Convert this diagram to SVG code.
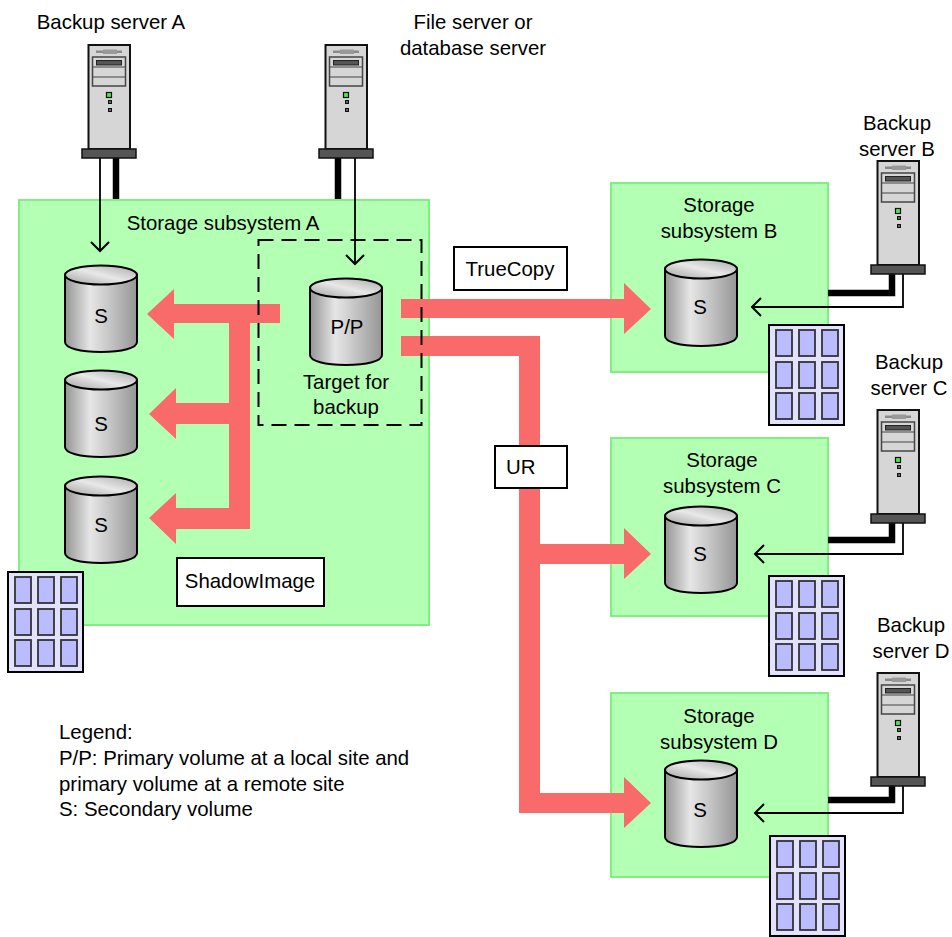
<svg xmlns="http://www.w3.org/2000/svg" xmlns:xlink="http://www.w3.org/1999/xlink" width="952" height="937" viewBox="0 0 952 937">
<style>
text{font-family:"Liberation Sans",Arial,sans-serif;font-size:20.4px;fill:#000}
.m{text-anchor:middle}
.sub{fill:#b3ffb3;stroke:#80ee80;stroke-width:2}
.box{fill:#fff;stroke:#000;stroke-width:2}
.thin{fill:none;stroke:#000;stroke-width:1.8}
.thick{fill:none;stroke:#000;stroke-width:6.5}
.head{fill:none;stroke:#000;stroke-width:2}
.pink{fill:#f96b6b}
</style>
<defs>
<linearGradient id="cb" x1="0" x2="1" y1="0" y2="0">
<stop offset="0" stop-color="#959595"/><stop offset=".35" stop-color="#e6e6e6"/><stop offset=".6" stop-color="#c8c8c8"/><stop offset="1" stop-color="#969696"/>
</linearGradient>
<linearGradient id="ct" x1="0" x2="1" y1="1" y2="0">
<stop offset="0" stop-color="#a0a0a0"/><stop offset=".5" stop-color="#e8e8e8"/><stop offset="1" stop-color="#a8a8a8"/>
</linearGradient>
<g id="cyl">
<path d="M1 10V77C1 83 16 87 37 87S73 83 73 77V10Z" fill="url(#cb)" stroke="#000" stroke-width="2"/>
<ellipse cx="37" cy="10" rx="36" ry="9.500" fill="url(#ct)" stroke="#000" stroke-width="2"/>
</g>
<g id="srv">
<rect x="7.500" y="1" width="41.500" height="104" fill="#d6d6d6" stroke="#111" stroke-width="2"/>
<rect x="15" y="6.500" width="26" height="2.500" fill="#8a8a8a"/><rect x="22" y="5.500" width="14" height="4.500" fill="#999"/>
<rect x="11.500" y="13" width="33" height="29" fill="#d6d6d6" stroke="#444" stroke-width="1.500"/>
<rect x="15.500" y="16.500" width="25" height="4.500" fill="#555" stroke="#222"/>
<path d="M11.500 23H44.500M11.500 33H44.500" stroke="#444" stroke-width="1.200" fill="none"/>
<rect x="25.500" y="48.500" width="5" height="5" fill="#44ee44" stroke="#111" stroke-width="1.200"/>
<rect x="27.500" y="56.500" width="3" height="3" fill="#666" stroke="#111"/>
<rect x="27.500" y="64.500" width="3" height="3" fill="#666" stroke="#111"/>
<rect x="1" y="105" width="54" height="9" fill="#555" stroke="#111" stroke-width="1.500"/>
</g>
<g id="grid">
<rect x="1" y="1" width="75" height="100" fill="#e2e2ff" stroke="#000" stroke-width="2"/>
<g fill="#bbbbff" stroke="#333" stroke-width="1.800">
<rect x="8" y="6" width="16" height="26"/><rect x="31" y="6" width="16" height="26"/><rect x="54" y="6" width="16" height="26"/>
<rect x="8" y="38" width="16" height="26"/><rect x="31" y="38" width="16" height="26"/><rect x="54" y="38" width="16" height="26"/>
<rect x="8" y="69" width="16" height="26"/><rect x="31" y="69" width="16" height="26"/><rect x="54" y="69" width="16" height="26"/>
</g>
</g>
</defs>
<rect width="952" height="937" fill="#fff"/>
<g id="storage-subsystem-a"><rect class="sub" x="19" y="200" width="410" height="425"/><text class="m" x="223" y="230">Storage subsystem A</text></g>
<g id="storage-subsystem-b"><rect class="sub" x="611" y="183" width="217" height="189"/><text class="m" x="719" y="212">Storage</text><text class="m" x="719" y="238">subsystem B</text></g>
<g id="storage-subsystem-c"><rect class="sub" x="611" y="438" width="217" height="178"/><text class="m" x="722" y="467">Storage</text><text class="m" x="722" y="493">subsystem C</text></g>
<g id="storage-subsystem-d"><rect class="sub" x="611" y="693" width="217" height="184"/><text class="m" x="719" y="723">Storage</text><text class="m" x="719" y="749">subsystem D</text></g>
<g id="connectors">
<path class="pink" d="M280 304V323H250V529H176V544L149 518 176 493V508H229V424H176V439L149 414 176 388V403H229V323H174V339L147 314 174 289V304Z"/>
<path class="pink" d="M401 299H624V283L651 309 624 334V318H401Z"/>
<path class="pink" d="M401 336H540V544H624V528L651 554 624 579V564H540V793H624V777L651 803 624 828V813H519V356H401Z"/>
<path class="thick" d="M116 158V199M338 158V199"/>
<path class="thin" d="M100 158V251M355 158V264"/>
<path class="head" d="M91 242L100 251 109 242M346 255L355 264 364 255"/>
<path class="thick" d="M892 274V293H828M892 523V540H828M892 786V800H828"/>
<path class="thin" d="M903 274V307H752M903 523V554H755M903 786V813H755"/>
<path class="head" d="M761 298L752 307 761 316M764 545L755 554 764 563M764 804L755 813 764 822"/>
</g>
<g id="server-a"><use href="#srv" x="81" y="44"/><text class="m" x="111" y="29">Backup server A</text></g>
<g id="server-file"><use href="#srv" x="318" y="44"/><text class="m" x="473" y="29">File server or</text><text class="m" x="473" y="55">database server</text></g>
<g id="server-b"><use href="#srv" x="870" y="160"/><text class="m" x="897" y="130">Backup</text><text class="m" x="897" y="156">server B</text></g>
<g id="server-c"><use href="#srv" x="870" y="409"/><text class="m" x="909" y="369">Backup</text><text class="m" x="909" y="395">server C</text></g>
<g id="server-d"><use href="#srv" x="870" y="672"/><text class="m" x="911" y="632">Backup</text><text class="m" x="911" y="658">server D</text></g>
<g id="volume-s1"><use href="#cyl" x="64" y="265"/><text class="m" x="101" y="323">S</text></g>
<g id="volume-s2"><use href="#cyl" x="64" y="370"/><text class="m" x="101" y="431">S</text></g>
<g id="volume-s3"><use href="#cyl" x="64" y="476"/><text class="m" x="101" y="532">S</text></g>
<g id="volume-pp"><use href="#cyl" x="309" y="278"/><text class="m" x="347" y="334">P/P</text></g>
<g id="target-group"><rect x="258.500" y="240" width="163" height="185" fill="none" stroke="#000" stroke-width="2" stroke-dasharray="15 8"/><text class="m" x="346" y="389">Target for</text><text class="m" x="346" y="414">backup</text></g>
<g id="volume-b"><use href="#cyl" x="664" y="259"/><text class="m" x="700" y="314">S</text></g>
<g id="volume-c"><use href="#cyl" x="664" y="506"/><text class="m" x="700" y="561">S</text></g>
<g id="volume-d"><use href="#cyl" x="664" y="760"/><text class="m" x="700" y="817">S</text></g>
<g id="pool-a"><use href="#grid" x="7" y="571"/></g>
<g id="pool-b"><use href="#grid" x="768" y="324"/></g>
<g id="pool-c"><use href="#grid" x="768" y="575"/></g>
<g id="pool-d"><use href="#grid" x="769" y="835"/></g>
<g id="label-truecopy"><rect class="box" x="454" y="247" width="113" height="43"/><text class="m" x="510" y="276">TrueCopy</text></g>
<g id="label-ur"><rect class="box" x="495" y="446" width="72" height="42"/><text x="506" y="474">UR</text></g>
<g id="label-shadowimage"><rect class="box" x="177" y="558" width="147" height="48"/><text class="m" x="250" y="588">ShadowImage</text></g>
<g id="legend"><text x="59" y="739">Legend:</text><text x="59" y="765">P/P: Primary volume at a local site and</text><text x="59" y="791">primary volume at a remote site</text><text x="59" y="816">S: Secondary volume</text></g>
</svg>
